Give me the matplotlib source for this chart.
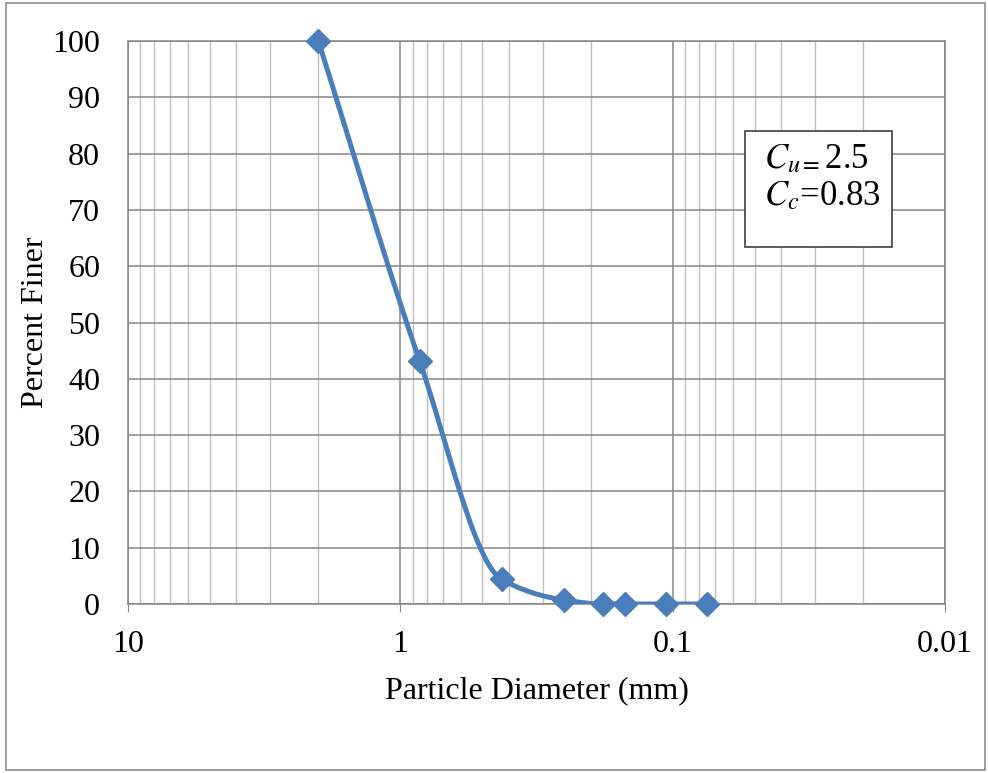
import numpy as np
import matplotlib
matplotlib.use("Agg")
import matplotlib.pyplot as plt
from matplotlib.patches import Rectangle

diameter_mm = [2.0, 0.85, 0.425, 0.25, 0.18, 0.15, 0.106, 0.075]
percent_finer = [100, 43.2, 4.4, 0.7, 0.0, 0.0, 0.0, 0.0]
y_ticks = [0, 10, 20, 30, 40, 50, 60, 70, 80, 90, 100]
x_ticks = [10, 1, 0.1, 0.01]
x_tick_labels = ["10", "1", "0.1", "0.01"]

plt.rcParams['font.family'] = ['Liberation Serif', 'DejaVu Serif']
plt.rcParams['mathtext.fontset'] = 'stix'

W, H = 988, 773
fig = plt.figure(figsize=(W/100, H/100), dpi=100)
ax = fig.add_axes([128/W, 1-604/H, (945-128)/W, (604-41)/H])

# smoothed line: monotone cubic (Fritsch-Carlson) in log-x space
lx = -np.log10(diameter_mm)          # increasing
yy = np.array(percent_finer, float)
h = np.diff(lx)
d = np.diff(yy) / h
m = np.zeros_like(yy)
m[0], m[-1] = d[0], d[-1]
for i in range(1, len(yy)-1):
    if d[i-1]*d[i] <= 0:
        m[i] = 0
    else:
        w1 = 2*h[i] + h[i-1]; w2 = h[i] + 2*h[i-1]
        m[i] = (w1 + w2) / (w1/d[i-1] + w2/d[i])
sx, sy = [], []
for i in range(len(yy)-1):
    t = np.linspace(0, 1, 50)
    h00 = 2*t**3 - 3*t**2 + 1; h10 = t**3 - 2*t**2 + t
    h01 = -2*t**3 + 3*t**2;    h11 = t**3 - t**2
    sx.extend(lx[i] + t*h[i])
    sy.extend(h00*yy[i] + h10*h[i]*m[i] + h01*yy[i+1] + h11*h[i]*m[i+1])
ax.plot(10**(-np.array(sx)), sy, color='#4a7ebb', lw=3.6, zorder=3,
        solid_capstyle='round', solid_joinstyle='round')
ax.plot(diameter_mm, percent_finer, linestyle='none', marker='D', ms=12.5,
        color='#4a7ebb', zorder=4, clip_on=False)

ax.set_xscale('log')
ax.set_xlim(10, 0.01)
ax.set_ylim(0, 100)
ax.set_yticks(y_ticks)
ax.set_xticks(x_ticks)
ax.set_xticklabels(x_tick_labels)
ax.xaxis.set_minor_locator(matplotlib.ticker.LogLocator(base=10, subs=np.arange(2, 10)))
ax.xaxis.set_minor_formatter(matplotlib.ticker.NullFormatter())
ax.grid(True, which='major', axis='both', color='#868686', lw=1.1)
ax.grid(True, which='minor', axis='x', color='#bfbfbf', lw=1.0)
ax.set_axisbelow(True)
for s in ax.spines.values():
    s.set_color('#868686'); s.set_linewidth(1.1)
ax.tick_params(axis='both', which='both', length=0, labelsize=23)
ax.tick_params(axis='y', which='major', pad=20)
ax.tick_params(axis='x', which='major', length=6, color='#868686', direction='out', pad=13)
ax.set_xlabel('Particle Diameter (mm)', fontsize=23, labelpad=12)
ax.set_ylabel('Percent Finer', fontsize=23, labelpad=2)

# text box
ax.add_patch(Rectangle((0.755, 0.634), 0.180, 0.206, transform=ax.transAxes,
                       fc='white', ec='#404040', lw=1.2, zorder=6))
ax.text(0.778, 0.790, r'$C_{u=}$2.5', transform=ax.transAxes, fontsize=25,
        ha='left', va='center', zorder=7)
ax.text(0.778, 0.724, r'$C_c$=0.83', transform=ax.transAxes, fontsize=25,
        ha='left', va='center', zorder=7)

fig.patches.append(Rectangle((6/W, 3/H), (985-6)/W, (770-3)/H, transform=fig.transFigure,
                             fill=False, ec='#8c8c8c', lw=1.2))
fig.savefig('out.png', dpi=100)
